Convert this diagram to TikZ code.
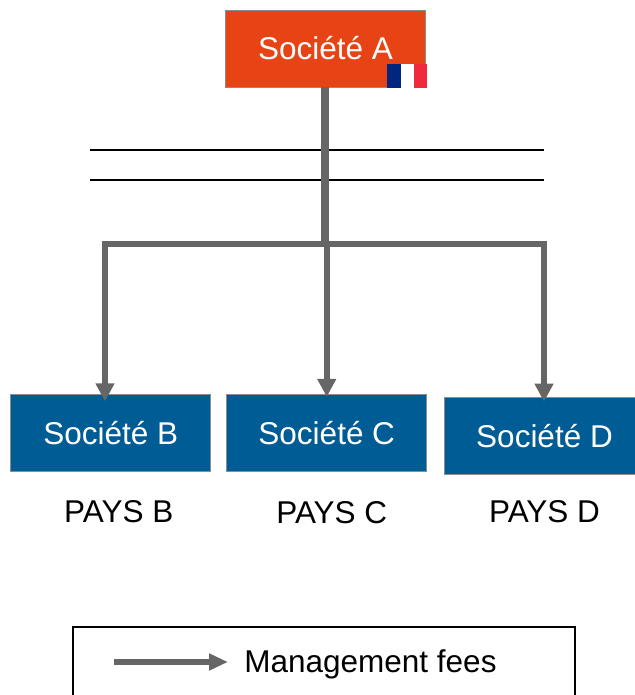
\documentclass[tikz,border=0pt]{standalone}
\usepackage{fontspec}
\setmainfont{Liberation Sans}
\usetikzlibrary{arrows.meta}

\definecolor{mereorange}{HTML}{E84315}
\definecolor{filialeblue}{HTML}{005C94}
\definecolor{flagblue}{HTML}{00267F}
\definecolor{flagred}{HTML}{F0293B}
\colorlet{fees}{black!60}

\begin{document}
\begin{tikzpicture}[x=0.5pt, y=-0.5pt, node distance=39.25pt]
    % styles
    \tikzstyle{societe} = [rectangle, minimum width=100pt, minimum height=38.5pt, inner sep=0pt, text centered, draw=black!45, line width=0.4pt, text=white, font=\fontsize{15.75}{18}\selectfont]
    \tikzstyle{mere} = [societe, fill=mereorange]
    \tikzstyle{filiale} = [societe, fill=filialeblue]
    \tikzstyle{pays} = [inner sep=0pt, text=black, font=\fontsize{15.75}{18}\selectfont]
    \tikzstyle{stripe} = [rectangle, minimum width=6.67pt, minimum height=12pt, inner sep=0pt, draw=none]
    \tikzstyle{arrow} = [line width=3pt, draw=fees, -{Triangle[length=9pt, width=9pt, fill=fees]}]

    \useasboundingbox (0,0) rectangle (634,695);

    % boxes
    \node [mere] (sa) at (325.5,48.5) {Soci\'et\'e A};
    \node [filiale] (sb) at (110.75,432.75) {Soci\'et\'e B};
    \node [filiale] (sc) at (326.75,432.75) {Soci\'et\'e C};
    \node [filiale] (sd) at (544.5,436) {Soci\'et\'e D};

    % flag
    \node [stripe, fill=flagblue, anchor=north west] (flagb) at (387,64) {};
    \node [stripe, fill=white, right of=flagb, node distance=6.67pt] (flagw) {};
    \node [stripe, fill=flagred, right of=flagw, node distance=6.67pt] (flagr) {};

    % countries
    \node [pays, below of=sb, xshift=4pt] (pb) {PAYS B};
    \node [pays, below of=sc, xshift=2.5pt, yshift=-0.5pt] (pc) {PAYS C};
    \node [pays, below of=sd, yshift=1.5pt] (pd) {PAYS D};

    % lines
    \coordinate (la) at (90,150);
    \coordinate (lb) at (544,150);
    \coordinate (lc) at (90,180);
    \coordinate (ld) at (544,180);
    \draw [line width=0.6pt] (la) -- (lb);
    \draw [line width=0.6pt] (lc) -- (ld);

    % fees
    \coordinate (hub) at (325,244);
    \draw [draw=fees, line width=4pt] (sa.south -| hub) -- (hub);
    \draw [arrow] (hub) -| ([xshift=-2.875pt,yshift=-3.75pt]sb.north);
    \draw [arrow] (hub -| sc.north) -- ([yshift=-1.5pt]sc.north);
    \draw [arrow] (hub) -| ([xshift=-0.25pt,yshift=-2.25pt]sd.north);

    % legend
    \node [draw=black, line width=0.6pt, minimum width=251pt, minimum height=50pt, inner sep=0pt] (legend) at (324,677) {};
    \coordinate (from) at (114,662);
    \node [inner sep=0pt, text=black, anchor=west, font=\fontsize{15.75}{18}\selectfont] (feestext) at (244,664) {Management fees};
    \draw [draw=fees, line width=2.75pt, -{Triangle[length=9.5pt, width=8pt, fill=fees]}] (from) -- ([xshift=-8pt]feestext.west |- from);
\end{tikzpicture}
\end{document}
